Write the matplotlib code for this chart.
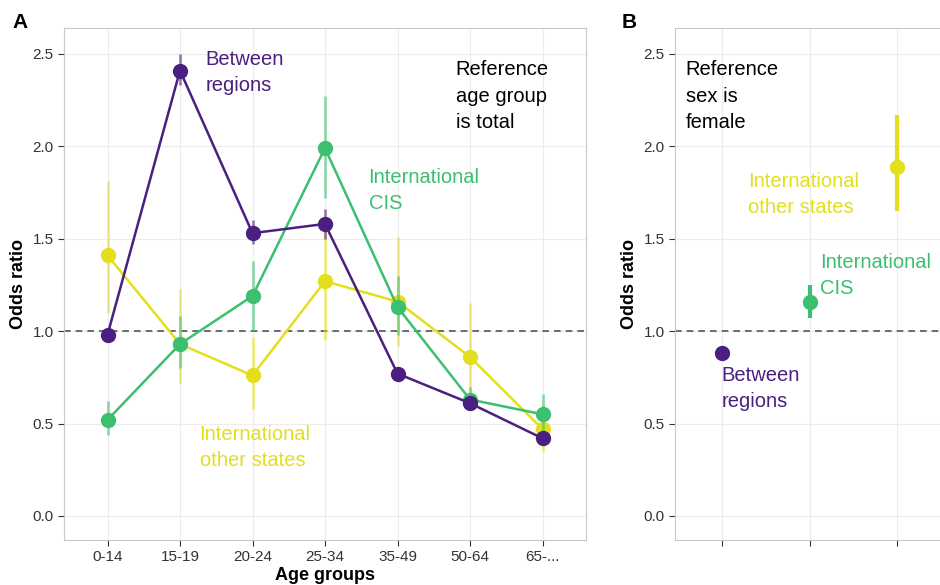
import matplotlib
matplotlib.use("Agg")
import matplotlib.pyplot as plt
import numpy as np

plt.rcParams['font.family'] = ['Liberation Sans', 'DejaVu Sans']

ages = ["0-14", "15-19", "20-24", "25-34", "35-49", "50-64", "65-..."]
betw = [0.98, 2.41, 1.53, 1.58, 0.77, 0.61, 0.42]
betw_lo = [0.95, 2.33, 1.47, 1.50, 0.74, 0.58, 0.39]
betw_hi = [1.01, 2.50, 1.60, 1.66, 0.80, 0.65, 0.46]
cis = [0.52, 0.93, 1.19, 1.99, 1.13, 0.63, 0.55]
cis_lo = [0.44, 0.80, 1.00, 1.72, 0.98, 0.58, 0.45]
cis_hi = [0.62, 1.08, 1.38, 2.27, 1.30, 0.70, 0.66]
oth = [1.41, 0.93, 0.76, 1.27, 1.16, 0.86, 0.47]
oth_lo = [1.10, 0.72, 0.58, 0.95, 0.92, 0.62, 0.35]
oth_hi = [1.81, 1.23, 0.97, 1.62, 1.51, 1.15, 0.60]

sex_vals = [0.88, 1.16, 1.89]
sex_lo = [0.86, 1.07, 1.65]
sex_hi = [0.90, 1.25, 2.17]

PURPLE = "#4a1f80"
GREEN = "#3cbf6f"
YELLOW = "#e3df1f"

W, H = 940, 585
fig = plt.figure(figsize=(W/100, H/100), dpi=100)
FS = 14.5
LS = 1.5

def style(ax):
    ax.set_facecolor("white")
    for s in ax.spines.values():
        s.set_color("#c8c8c8")
    ax.grid(True, color="#ececec", lw=0.8)
    ax.set_axisbelow(True)
    ax.tick_params(colors="#333333", labelsize=11, length=4)
    ax.set_ylim(-0.13, 2.64)
    ax.set_yticks([0, 0.5, 1, 1.5, 2, 2.5])
    ax.set_yticklabels(["0.0", "0.5", "1.0", "1.5", "2.0", "2.5"])
    ax.axhline(1.0, color="#555555", ls="--", lw=1.2, dashes=(4, 3))
    ax.set_ylabel("Odds ratio", fontsize=13, fontweight="bold")

# Panel A
axA = fig.add_axes([64/W, 1-540/H, (586-64)/W, (540-28)/H])
style(axA)
x = np.arange(len(ages))
for v, lo, hi, c in [(oth, oth_lo, oth_hi, YELLOW), (cis, cis_lo, cis_hi, GREEN), (betw, betw_lo, betw_hi, PURPLE)]:
    axA.vlines(x, lo, hi, color=c, lw=2, alpha=0.55)
    axA.plot(x, v, color=c, lw=1.8, marker="o", ms=10)
axA.set_xlim(-0.6, len(ages) - 0.4)
axA.set_xticks(x)
axA.set_xticklabels(ages)
axA.set_xlabel("Age groups", fontsize=13, fontweight="bold", labelpad=2)
axA.text(1.35, 2.4, "Between\nregions", color=PURPLE, fontsize=FS, va="center", linespacing=LS)
axA.text(3.6, 1.76, "International\nCIS", color=GREEN, fontsize=FS, va="center", linespacing=LS)
axA.text(1.27, 0.37, "International\nother states", color=YELLOW, fontsize=FS, va="center", linespacing=LS)
axA.text(4.8, 2.27, "Reference\nage group\nis total", color="black", fontsize=FS, va="center", linespacing=LS)
fig.text(12/W, 1-22/H, "A", fontsize=15, fontweight="bold", va="center")

# Panel B
axB = fig.add_axes([675/W, 1-540/H, (944-675)/W, (540-28)/H])
style(axB)
xb = np.arange(3)
cols = [PURPLE, GREEN, YELLOW]
for i in range(3):
    axB.vlines(xb[i], sex_lo[i], sex_hi[i], color=cols[i], lw=3)
    axB.plot(xb[i], sex_vals[i], "o", color=cols[i], ms=10)
axB.set_xlim(-0.53, 2.53)
axB.set_xticks(xb)
axB.set_xticklabels([])
axB.text(-0.41, 2.27, "Reference\nsex is\nfemale", color="black", fontsize=FS, va="center", linespacing=LS)
axB.text(0.0, 0.69, "Between\nregions", color=PURPLE, fontsize=FS, va="center", linespacing=LS)
axB.text(1.12, 1.3, "International\nCIS", color=GREEN, fontsize=FS, va="center", linespacing=LS)
axB.text(0.3, 1.74, "International\nother states", color=YELLOW, fontsize=FS, va="center", linespacing=LS)
fig.text(622/W, 1-22/H, "B", fontsize=15, fontweight="bold", va="center")

fig.savefig("out.png", dpi=100)
